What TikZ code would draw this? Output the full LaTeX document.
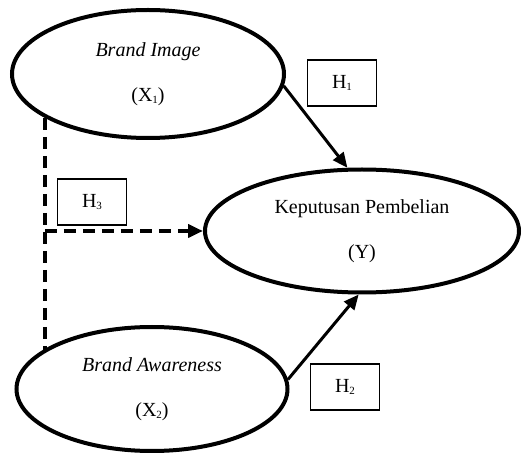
\documentclass[tikz,border=0pt]{standalone}
\usepackage{fontspec}
\setmainfont{Liberation Serif}
\usetikzlibrary{shapes.geometric, positioning, calc, arrows.meta}
\newcommand{\sub}[1]{\raisebox{-2pt}{\fontsize{11}{11}\selectfont #1}}

\begin{document}
\begin{tikzpicture}[x=1pt, y=-1pt,
	every node/.style={font=\fontsize{20}{24}\selectfont},
	var/.style={ellipse, draw, line width=4pt, align=center, inner sep=0pt},
	hyp/.style={rectangle, draw, line width=1.3pt, minimum width=69pt, minimum height=46pt, inner sep=0pt},
	direct/.style={line width=3pt, -{Triangle[length=15pt, width=13pt]}},
	moderate/.style={line width=4pt, dash pattern=on 12pt off 7pt}]
	\useasboundingbox (0,0) rectangle (523,457);
	\node[var, minimum width=272pt, minimum height=128pt] (X1) at (148,74) {\textit{Brand Image}\\[21pt](X\sub{1})};
	\node[var, minimum width=314pt, minimum height=123pt] (Y) at (362,231) {Keputusan Pembelian\\[21pt](Y)};
	\node[var, minimum width=271pt, minimum height=124pt] (X2) at (152,389) {\textit{Brand Awareness}\\[21pt](X\sub{2})};
	\node[hyp] (H1) at (342,83) {H\sub{1}};
	\node[hyp] (H3) at (92,202) {H\sub{3}};
	\node[hyp] (H2) at (345,387) {H\sub{2}};
	\coordinate (J) at (X1.203 |- Y.west);
	\draw[direct] (X1.-5) -- (Y.103);
	\draw[direct] (X2.4) -- (Y.267);
	\draw[moderate] (X1.203) -- (X1.203 |- X2.160);
	\draw[moderate, -{Triangle[length=15pt, width=13pt]}] (J) -- (Y.west);
\end{tikzpicture}
\end{document}
